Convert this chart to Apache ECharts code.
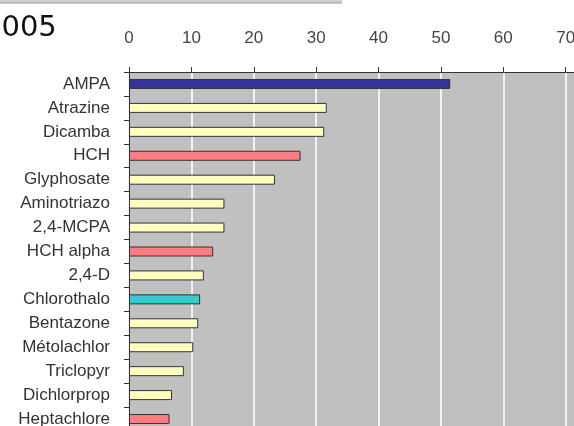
<!DOCTYPE html>
<html>
<head>
<meta charset="utf-8">
<script src="https://cdn.jsdelivr.net/npm/echarts@6/dist/echarts.min.js"></script>
<style>
html,body{margin:0;padding:0;background:#fff;overflow:hidden;width:574px;height:426px;}
#c{width:630px;height:431px;}
</style>
</head>
<body>
<div id="c"></div>
<script>
const categories = ['AMPA','Atrazine','Dicamba','HCH','Glyphosate','Aminotriazo','2,4-MCPA','HCH alpha','2,4-D','Chlorothalo','Bentazone','Métolachlor','Triclopyr','Dichlorprop','Heptachlore'];
const values = [51.5, 31.7, 31.3, 27.5, 23.4, 15.3, 15.3, 13.5, 12.0, 11.4, 11.1, 10.3, 8.8, 6.9, 6.5];
const groups = ['metabolite','herbicide','herbicide','insecticide','herbicide','herbicide','herbicide','insecticide','herbicide','fungicide','herbicide','herbicide','herbicide','herbicide','insecticide'];
const groupColors = {metabolite:'#333399', herbicide:'#ffffc0', insecticide:'#ff7c80', fungicide:'#33cccc'};
const xTicks = [0,10,20,30,40,50,60,70,80];
const title = '2005';

const chart = echarts.init(document.getElementById('c'), null, {renderer:'canvas'});
const labelFont = '"Liberation Sans", Arial, sans-serif';
chart.setOption({
  animation:false,
  backgroundColor:'#ffffff',
  graphic:[
    {type:'rect', shape:{x:0,y:0,width:342,height:3}, style:{fill:'#cfcfcf'}},
    {type:'line', shape:{x1:0,y1:3,x2:342,y2:3}, style:{stroke:'#9a9a9a',lineWidth:1}},
    {type:'text', left:-17, top:14, style:{text:title, font:'29px "DejaVu Sans", Verdana, sans-serif', fill:'#111'}}
  ],
  grid:{left:129, top:72, right:2, bottom:0, outerBoundsMode:'none', containLabel:false, show:true, backgroundColor:'#c0c0c0', borderWidth:0},
  xAxis:{
    type:'value', position:'top', min:xTicks[0], max:xTicks[xTicks.length-1], interval:10,
    axisLine:{show:true, lineStyle:{color:'#333', width:1}},
    axisTick:{show:true, length:5, lineStyle:{color:'#333'}},
    axisLabel:{margin:25, color:'#444', fontSize:17, fontFamily:labelFont},
    splitLine:{show:true, lineStyle:{color:'#f2f2f2', width:2}}
  },
  yAxis:{
    type:'category', data:categories, inverse:true,
    axisLine:{show:true, lineStyle:{color:'#333', width:1}},
    axisTick:{show:true, length:5, alignWithLabel:false, lineStyle:{color:'#333'}},
    axisLabel:{margin:19, color:'#333', fontSize:17, fontFamily:labelFont},
    splitLine:{show:false}
  },
  series:[{
    type:'bar', barWidth:10,
    data: values.map((v,i)=>({value:v, itemStyle:{color:groupColors[groups[i]], borderColor:'#333', borderWidth:1}}))
  }]
});
</script>
</body>
</html>
